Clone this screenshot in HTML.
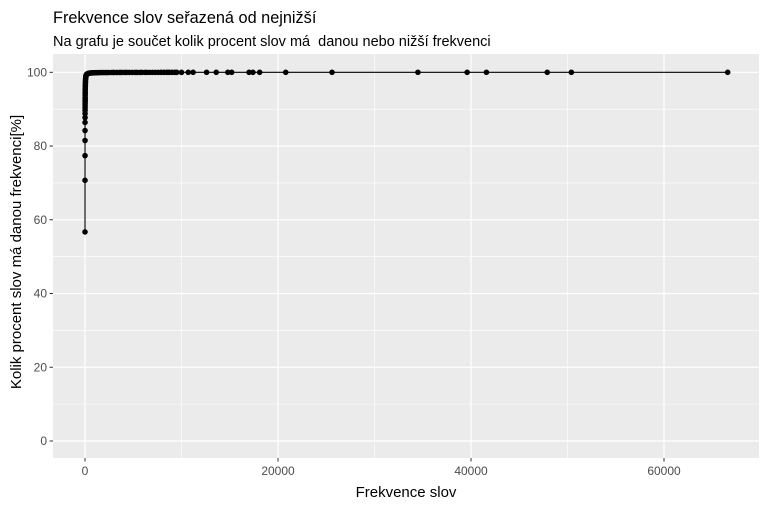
<!DOCTYPE html>
<html><head><meta charset="utf-8"><style>
body{margin:0;background:#fff;}
svg text{font-family:"Liberation Sans",Arial,sans-serif;}
</style></head><body>
<svg width="767" height="505" id="c">
<text x="53" y="23" font-size="16.3" fill="#000">Frekvence slov seřazená od nejnižší</text>
<text x="53" y="46" font-size="14.5" fill="#000" xml:space="preserve">Na grafu je součet kolik procent slov má  danou nebo nižší frekvenci</text>
<rect x="53" y="54" width="706" height="404" fill="#ebebeb"/>
<g id="grid"></g>
<g id="marks"></g>
<g id="axes"></g>
<text x="406" y="497" font-size="15" text-anchor="middle">Frekvence slov</text>
<text transform="translate(21,252) rotate(-90)" font-size="15" text-anchor="middle">Kolik procent slov má danou frekvenci[%]</text>
</svg>
<script>
const freqs=[1,2,3,4,5,6,7,8,9,10,11,12,13,14,15,16,18,20,22,25,28,32,36,40,45,50,60,70,80,90,100,120,140,160,190,220,260,300,350,400,450,500,600,700,800,900,1000,1100,1200,1350,1500,1700,1900,2100,2300,2500,2800,3000,3300,3600,3800,4100,4300,4600,4900,5200,5400,5700,5900,6200,6400,6700,7000,7300,7600,7900,8200,8500,8700,9000,9300,9500,10000,10700,11200,12600,13600,14800,15200,17000,17400,18100,20800,25600,34500,39600,41600,47900,50400,66600];
const cumPct=[56.7,70.7,77.4,81.5,84.2,86.4,87.7,88.8,89.7,90.4,91.0,91.5,92.0,92.4,92.8,93.1,93.7,94.2,94.6,95.2,95.6,96.1,96.5,96.9,97.2,97.6,98.1,98.4,98.7,98.9,99.0,99.2,99.3,99.4,99.5,99.55,99.6,99.65,99.7,99.73,99.76,99.8,99.82,99.84,99.86,99.87,99.88,99.89,99.9,99.91,99.92,99.925,99.93,99.935,99.94,99.945,99.95,99.953,99.955,99.957,99.96,99.962,99.965,99.967,99.97,99.972,99.974,99.976,99.977,99.978,99.979,99.98,99.981,99.982,99.983,99.984,99.985,99.986,99.987,99.988,99.989,99.99,99.991,99.992,99.993,99.994,99.995,99.996,99.996,99.997,99.997,99.998,99.998,99.998,99.999,99.999,99.999,99.999,99.999,100];
const xTicks=[0,20000,40000,60000];
const yTicks=[0,20,40,60,80,100];
const NS="http://www.w3.org/2000/svg";
const X=v=>85+v*(664-85)/60000;
const Y=v=>441-v*(441-72.3)/100;
const mk=(p,t,a)=>{const e=document.createElementNS(NS,t);for(const k in a)e.setAttribute(k,a[k]);document.getElementById(p).appendChild(e);return e;};
for(let i=0;i<xTicks.length;i++){const m=xTicks[i]+10000;if(X(m)<759){const g=mk('grid','line',{x1:X(m),x2:X(m),y1:54,y2:458,stroke:'#fff','stroke-width':0.6});

}}
for(let i=0;i<yTicks.length-1;i++){const m=yTicks[i]+10;const g=mk('grid','line',{x1:53,x2:759,y1:Y(m),y2:Y(m),stroke:'#fff','stroke-width':0.6});

}
xTicks.forEach(t=>{const g=mk('grid','line',{x1:X(t),x2:X(t),y1:54,y2:458,stroke:'#fff','stroke-width':1.2});


const k=mk('axes','line',{x1:X(t),x2:X(t),y1:458,y2:461.5,stroke:'#333'});


const l=mk('axes','text',{x:X(t),y:475,'font-size':12,fill:'#4d4d4d','text-anchor':'middle'});l.textContent=t;

});
yTicks.forEach(t=>{const g=mk('grid','line',{x1:53,x2:759,y1:Y(t),y2:Y(t),stroke:'#fff','stroke-width':1.2});


const k=mk('axes','line',{x1:49.5,x2:53,y1:Y(t),y2:Y(t),stroke:'#333'});


const l=mk('axes','text',{x:47,y:Y(t)+4,'font-size':12,fill:'#4d4d4d','text-anchor':'end'});l.textContent=t;

});
const pl=mk('marks','polyline',{points:freqs.map((f,i)=>X(f)+','+Y(cumPct[i])).join(' '),fill:'none',stroke:'#000','stroke-width':1.1});


freqs.forEach((f,i)=>{const c=mk('marks','circle',{cx:X(f),cy:Y(cumPct[i]),r:2.8,fill:'#000'});

});
</script>
</body></html>
